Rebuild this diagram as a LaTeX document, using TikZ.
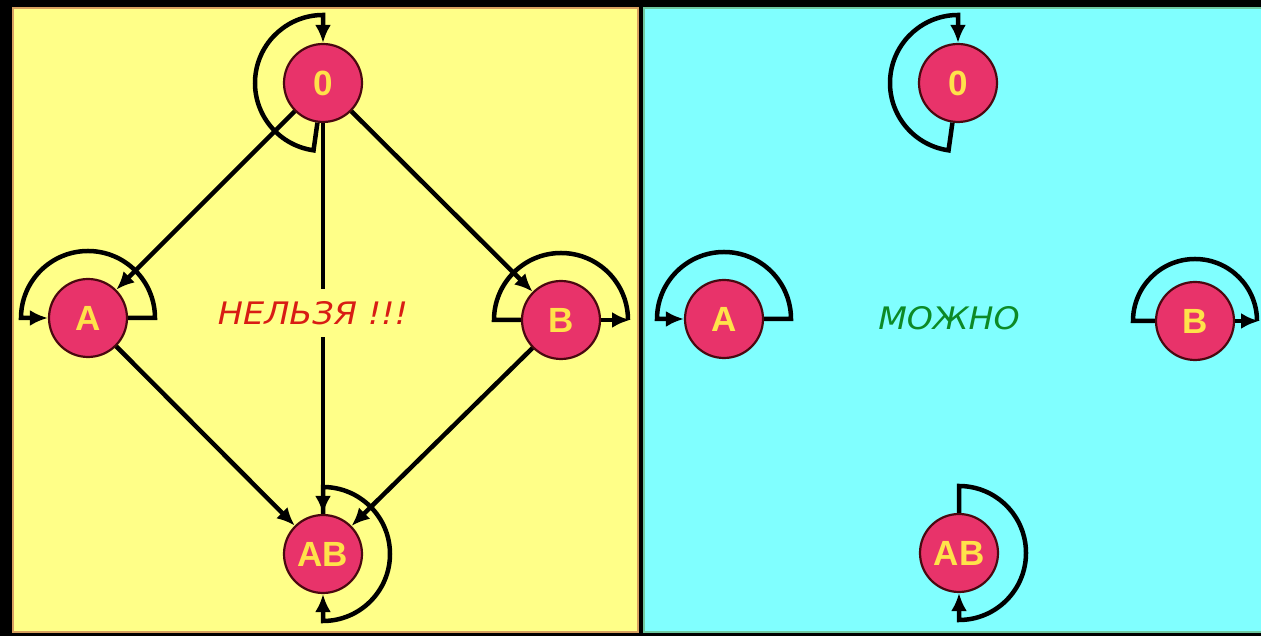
\documentclass[tikz,border=0pt]{standalone}
\usepackage{fontspec}
\setmainfont{DejaVu Sans}
\newfontfamily\labfont{Liberation Sans}
\newfontfamily\txtfont{DejaVu Sans}
\usetikzlibrary{arrows.meta,calc}
\definecolor{bgy}{HTML}{FFFF88}
\definecolor{bgc}{HTML}{80FFFF}
\definecolor{bordy}{HTML}{D8A060}
\definecolor{bordc}{HTML}{70C8A0}
\definecolor{nodefill}{HTML}{E8336A}
\definecolor{nodeline}{HTML}{4A0810}
\definecolor{labcol}{HTML}{FFE24A}
\definecolor{redtxt}{HTML}{D81C14}
\definecolor{greentxt}{HTML}{0C8A26}
\begin{document}
\begin{tikzpicture}[x=1pt,y=1pt,
  state/.style={circle,minimum size=78pt,inner sep=0pt,fill=nodefill,draw=nodeline,line width=2.2pt,text=labcol,font=\labfont\bfseries\fontsize{35}{35}\selectfont},
  conn/.style={line width=4.5pt,black},
  tip/.style={-{Latex[length=18pt,width=16pt]}},
  bigtext/.style={font=\txtfont\itshape\fontsize{31}{31}\selectfont,inner sep=0pt}
]
\fill[black] (0,0) rectangle (1261,636);
\useasboundingbox (0,0) rectangle (1261,636);
\filldraw[fill=bgy,draw=bordy,line width=1.5pt] (13,4) rectangle (638,628);
\filldraw[fill=bgc,draw=bordc,line width=1.5pt] (644,4) rectangle (1265,628);

% left panel nodes
\node[state] (n0L) at (323,553) {0};
\node[state] (nAL) at (88,318) {A};
\node[state] (nBL) at (561,316) {B};
\node[state] (nABL) at (323,82) {AB};

% right panel nodes
\node[state] (n0R) at (958,553) {0};
\node[state] (nAR) at (724,317) {A};
\node[state] (nBR) at (1195,315) {B};
\node[state] (nABR) at (959,83) {AB};

% left edges
\draw[conn,tip] (n0L) -- (nAL);
\draw[conn,tip] (n0L) -- (nBL);
\draw[conn,tip] (n0L) -- (nABL);
\draw[conn,tip] (nAL) -- (nABL);
\draw[conn,tip] (nBL) -- (nABL);

% text left (covers the vertical line)
\node[bigtext,xscale=1.08,text=redtxt,fill=bgy,inner ysep=12pt,inner xsep=0pt] (tL) at (313,323) {НЕЛЬЗЯ !!!};
% text right
\node[bigtext,xscale=1.07,text=greentxt] (tR) at (949,318) {МОЖНО};

% loops
\foreach \n in {n0L,n0R}{
  \draw[conn,tip] (\n.-98) -- ($(\n)+(-98:68)$) arc[start angle=-98,end angle=-270,radius=68] -- (\n.90);
}
\foreach \n in {nAL,nAR}{
  \draw[conn,tip] (\n.0) -- ($(\n)+(0:67)$) arc[start angle=0,end angle=180,radius=67] -- (\n.180);
}
\foreach \n/\r in {nBL/67,nBR/62}{
  \draw[conn] (\n.180) -- ($(\n)+(180:\r)$) arc[start angle=180,end angle=0,radius=\r];
  \draw[conn,tip] (\n.0) -- ($(\n)+(0:\r+2)$);
}
\foreach \n in {nABL,nABR}{
  \draw[conn,tip] (\n.90) -- ($(\n)+(90:67)$) arc[start angle=90,end angle=-90,radius=67] -- (\n.-90);
}
\end{tikzpicture}
\end{document}
